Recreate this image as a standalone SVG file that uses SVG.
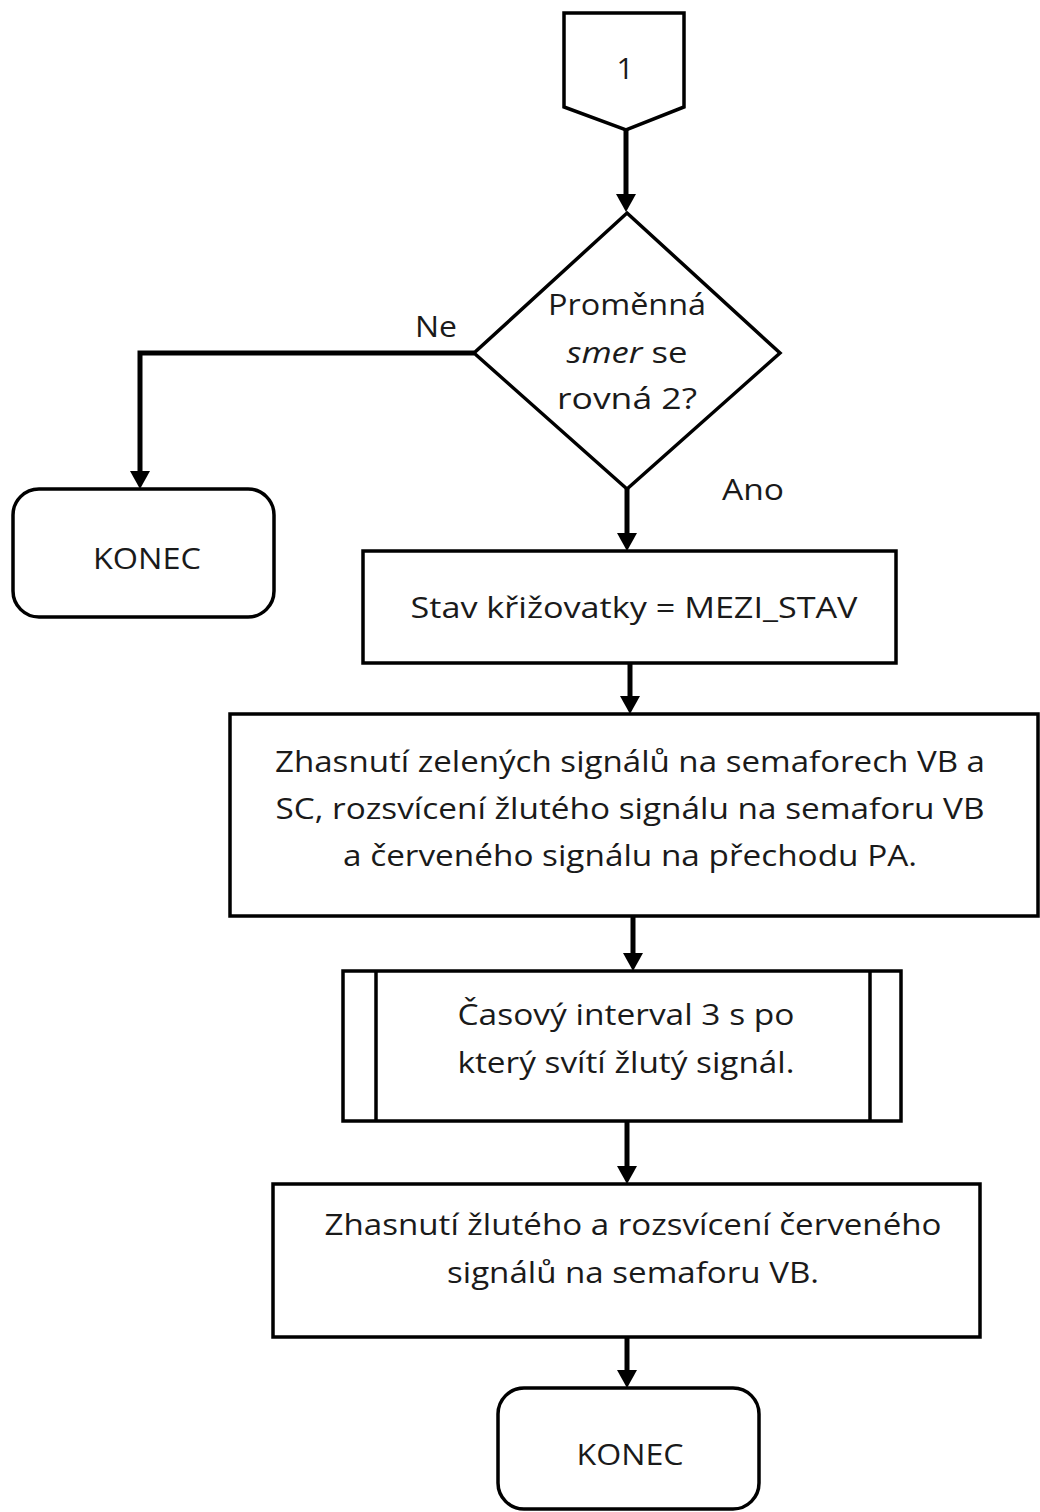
<svg xmlns="http://www.w3.org/2000/svg" width="1040" height="1512" viewBox="0 0 1040 1512">
  <style>
    .shape { fill: #ffffff; stroke: #000000; stroke-width: 3.5; }
    .edge { fill: none; stroke: #000000; stroke-width: 5; marker-end: url(#arrow); }
    .t { font-family: "Open Sans", "Liberation Sans", sans-serif; font-size: 30px; fill: #1a1a1a; text-anchor: middle; }
    .tl { font-family: "Open Sans", "Liberation Sans", sans-serif; font-size: 30px; fill: #1a1a1a; }
  </style>
  <defs>
    <marker id="arrow" viewBox="0 0 18 20" refX="8" refY="10" markerWidth="18" markerHeight="20" markerUnits="userSpaceOnUse" orient="auto">
      <path d="M0,0 L18,10 L0,20 Z" fill="#000000"/>
    </marker>
  </defs>

  <rect width="1040" height="1512" fill="#ffffff"/>

  <!-- connectors -->
  <g id="connectors">
    <path class="edge" d="M626,130 V202"/>
    <path class="edge" d="M474,353 H140 V479"/>
    <path class="edge" d="M627,489 V541"/>
    <path class="edge" d="M630,663 V704"/>
    <path class="edge" d="M633,917 V961"/>
    <path class="edge" d="M627,1121 V1174"/>
    <path class="edge" d="M627,1337 V1378"/>
  </g>

  <!-- off-page connector 1 -->
  <g id="connector-1">
    <path class="shape" d="M564,13 H684 V107 L626,130 L564,107 Z"/>
    <text class="t" x="625" y="79" font-size="32">1</text>
  </g>

  <!-- decision: smer == 2 -->
  <g id="decision-smer">
    <path class="shape" d="M627,213 L780,353 L627,489 L474,353 Z"/>
    <text class="t" x="627" y="315" textLength="158" lengthAdjust="spacingAndGlyphs">Proměnná</text>
    <text class="t" x="627" y="363" textLength="121" lengthAdjust="spacingAndGlyphs"><tspan font-style="italic">smer</tspan> se</text>
    <text class="t" x="627" y="409" textLength="140" lengthAdjust="spacingAndGlyphs">rovná 2?</text>
    <text class="tl" x="415" y="337" textLength="42" lengthAdjust="spacingAndGlyphs">Ne</text>
    <text class="tl" x="722" y="500" textLength="62" lengthAdjust="spacingAndGlyphs">Ano</text>
  </g>

  <!-- terminator: KONEC (Ne branch) -->
  <g id="end-left">
    <rect class="shape" x="13" y="489" width="261" height="128" rx="26" ry="26"/>
    <text class="t" x="147" y="569" textLength="108" lengthAdjust="spacingAndGlyphs">KONEC</text>
  </g>

  <!-- process: state assignment -->
  <g id="set-state">
    <rect class="shape" x="363" y="551" width="533" height="112"/>
    <text class="t" x="634" y="618" textLength="447" lengthAdjust="spacingAndGlyphs">Stav křižovatky = MEZI_STAV</text>
  </g>

  <!-- process: switch green off, yellow/red on -->
  <g id="signals-change">
    <rect class="shape" x="230" y="714" width="808" height="202"/>
    <text class="t" x="630" y="772" textLength="710" lengthAdjust="spacingAndGlyphs">Zhasnutí zelených signálů na semaforech VB a</text>
    <text class="t" x="630" y="819" textLength="709" lengthAdjust="spacingAndGlyphs">SC, rozsvícení žlutého signálu na semaforu VB</text>
    <text class="t" x="630" y="866" textLength="574" lengthAdjust="spacingAndGlyphs">a červeného signálu na přechodu PA.</text>
  </g>

  <!-- predefined process: 3 s delay -->
  <g id="delay">
    <rect class="shape" x="343" y="971" width="558" height="150"/>
    <line class="shape" x1="376" y1="971" x2="376" y2="1121"/>
    <line class="shape" x1="870" y1="971" x2="870" y2="1121"/>
    <text class="t" x="626" y="1025" textLength="337" lengthAdjust="spacingAndGlyphs">Časový interval 3 s po</text>
    <text class="t" x="626" y="1073" textLength="337" lengthAdjust="spacingAndGlyphs">který svítí žlutý signál.</text>
  </g>

  <!-- process: yellow off, red on -->
  <g id="red-on">
    <rect class="shape" x="273" y="1184" width="707" height="153"/>
    <text class="t" x="633" y="1235" textLength="617" lengthAdjust="spacingAndGlyphs">Zhasnutí žlutého a rozsvícení červeného</text>
    <text class="t" x="633" y="1283" textLength="372" lengthAdjust="spacingAndGlyphs">signálů na semaforu VB.</text>
  </g>

  <!-- terminator: KONEC (main flow) -->
  <g id="end-main">
    <rect class="shape" x="498" y="1388" width="261" height="121" rx="26" ry="26"/>
    <text class="t" x="630" y="1465" textLength="107" lengthAdjust="spacingAndGlyphs">KONEC</text>
  </g>
</svg>
